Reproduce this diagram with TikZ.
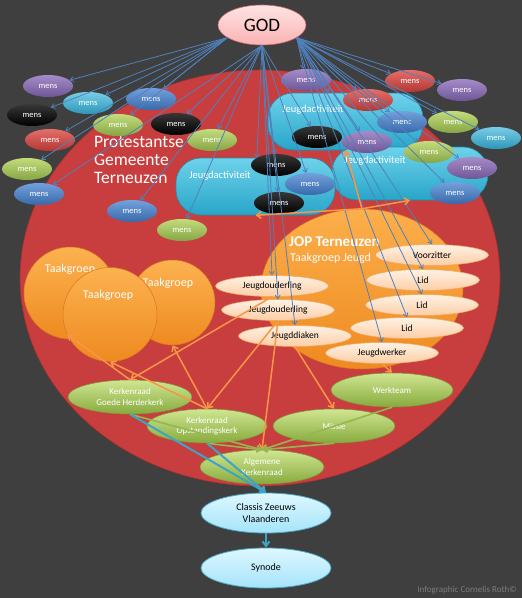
\documentclass[tikz,border=0pt]{standalone}
\usepackage{fontspec}
\setmainfont{Carlito}
\usetikzlibrary{shapes.geometric,arrows.meta}
\definecolor{bg}{RGB}{63,63,63}
\definecolor{pgred}{RGB}{200,62,62}
\definecolor{pgredd}{RGB}{170,45,45}
\definecolor{arblue}{RGB}{79,129,189}
\definecolor{arorange}{RGB}{247,150,70}
\definecolor{argreen}{RGB}{150,182,80}
\definecolor{arteal}{RGB}{60,165,195}
\definecolor{creditgray}{RGB}{125,125,125}
\tikzset{
  mens/.style={ellipse, minimum width=50pt, minimum height=22pt, inner sep=0pt, text=white, font=\fontsize{8.5}{9}\selectfont},
  mpurple/.style={mens, top color={rgb,255:red,165;green,140;blue,200}, bottom color={rgb,255:red,110;green,85;blue,150}},
  mcyan/.style={mens, top color={rgb,255:red,120;green,205;blue,230}, bottom color={rgb,255:red,45;green,150;blue,185}},
  mblue/.style={mens, top color={rgb,255:red,115;green,160;blue,220}, bottom color={rgb,255:red,55;green,105;blue,170}},
  mblack/.style={mens, top color={rgb,255:red,55;green,55;blue,55}, bottom color=black},
  mred/.style={mens, top color={rgb,255:red,228;green,110;blue,105}, bottom color={rgb,255:red,178;green,55;blue,52}},
  mgreen/.style={mens, top color={rgb,255:red,195;green,220;blue,125}, bottom color={rgb,255:red,135;green,165;blue,68}},
  jabox/.style={rectangle, rounded corners=25pt, inner sep=0pt, top color={rgb,255:red,110;green,210;blue,235}, bottom color={rgb,255:red,40;green,165;blue,200}, draw={rgb,255:red,30;green,140;blue,170}, line width=0.6pt},
  jatext/.style={text=white, font=\fontsize{10.5}{12}\selectfont, inner sep=0pt},
  tgcircle/.style={circle, inner sep=0pt, top color={rgb,255:red,252;green,178;blue,80}, bottom color={rgb,255:red,238;green,138;blue,32}, draw={rgb,255:red,215;green,120;blue,30}, line width=0.5pt},
  tgtext/.style={text=white, font=\fontsize{12}{14}\selectfont, inner sep=0pt},
  peach/.style={ellipse, minimum width=113pt, minimum height=21pt, inner sep=0pt, top color={rgb,255:red,255;green,242;blue,228}, bottom color={rgb,255:red,252;green,205;blue,165}, draw={rgb,255:red,245;green,165;blue,95}, line width=0.5pt, text=black, font=\fontsize{9.5}{11}\selectfont},
  greenel/.style={ellipse, minimum width=122pt, minimum height=34pt, inner sep=0pt, align=center, top color={rgb,255:red,208;green,230;blue,145}, bottom color={rgb,255:red,135;green,170;blue,62}, draw={rgb,255:red,125;green,155;blue,55}, line width=0.5pt, text=white, font=\fontsize{9}{10.5}\selectfont},
  lblue/.style={ellipse, minimum width=130pt, minimum height=40pt, inner sep=0pt, align=center, top color={rgb,255:red,222;green,247;blue,255}, bottom color={rgb,255:red,165;green,228;blue,250}, draw={rgb,255:red,75;green,172;blue,198}, line width=0.8pt, text=black, font=\fontsize{10}{11.5}\selectfont},
  barrow/.style={draw=arblue, line width=0.8pt, -{Straight Barb[length=3.5pt,width=5pt]}},
  oarrow/.style={draw=arorange, line width=1.5pt, -{Straight Barb[length=4.5pt,width=7pt]}},
  garrow/.style={draw=argreen, line width=1.6pt, -{Straight Barb[length=4pt,width=6pt]}},
  tarrow/.style={draw=arteal, line width=2pt, -{Straight Barb[length=4.5pt,width=7pt]}}
}
\begin{document}
\begin{tikzpicture}[x=1pt,y=-1pt]
\fill[bg] (0,0) rectangle (522,598);
\useasboundingbox (0,0) rectangle (522,598);

% big church ellipse
\node[ellipse, minimum width=480pt, minimum height=416pt, inner sep=0pt, fill=pgred, draw=pgredd, line width=0.6pt] (pgt) at (260,278) {};

% GOD
\node[ellipse, minimum width=88pt, minimum height=40pt, inner sep=0pt, top color={rgb,255:red,255;green,228;blue,228}, bottom color={rgb,255:red,250;green,178;blue,178}, draw={rgb,255:red,205;green,110;blue,110}, line width=0.6pt, font=\fontsize{19}{22}\selectfont] (god) at (262,25) {GOD};

% mens behind Jeugdactiviteit
\node[mpurple] (m13) at (306,80) {mens};

% left mens
\node[mpurple] (m1) at (48,86) {mens};
\node[mcyan] (m2) at (88,103) {mens};
\node[mblue] (m3) at (151,99) {mens};
\node[mblack] (m4) at (32,115) {mens};
\node[mgreen] (m5) at (118,125) {mens};
\node[mblack] (m6) at (176,124) {mens};
\node[mred] (m7) at (50,140) {mens};
\node[mgreen] (m8) at (212,140) {mens};
\node[mgreen] (m9) at (27,169) {mens};
\node[mblue] (m10) at (39,194) {mens};
\node[mblue] (m11) at (132,211) {mens};
\node[mgreen] (m12) at (182,230) {mens};
\node[mred] (m14) at (410,81) {mens};
\node[mpurple] (m15) at (462,90) {mens};
\node[mgreen] (m17) at (453,122) {mens};
\node[mcyan] (m19) at (496,138) {mens};

% text
\node[anchor=north west, align=left, inner sep=0pt, text=white, font=\fontsize{17.5}{18}\selectfont] (pgtlabel) at (94,136) {Protestantse\\Gemeente\\Terneuzen};

% JOP circle
\node[ellipse, minimum width=202pt, minimum height=160pt, inner sep=0pt, top color={rgb,255:red,252;green,175;blue,75}, bottom color={rgb,255:red,238;green,138;blue,32}, draw={rgb,255:red,215;green,120;blue,30}, line width=0.5pt] (jop) at (362,289) {};

% Taakgroep circles
\node[tgcircle, minimum size=92pt] (t1) at (70,293) {};
\node[tgtext] (t1l) at (70,269) {Taakgroep};
\node[tgcircle, minimum size=85pt] (t3) at (172.5,302.5) {};
\node[tgtext] (t3l) at (168,283) {Taakgroep};
\node[tgcircle, minimum size=94pt] (t2) at (110,314.5) {};
\node[tgtext] (t2l) at (108,295) {Taakgroep};

% Jeugdactiviteit boxes
\node[jabox, minimum width=155pt, minimum height=57pt] (ja2) at (345.5,121.5) {};
\node[jatext] (ja2l) at (313,110) {Jeugdactiviteit};
\node[mred] (m16) at (368,100) {mens};
\node[jabox, minimum width=156pt, minimum height=53pt] (ja3) at (410,173.5) {};
\node[jatext] (ja3l) at (375,161) {Jeugdactiviteit};
\node[jabox, minimum width=159pt, minimum height=57pt] (ja1) at (255.5,186.5) {};
\node[jatext] (ja1l) at (220,176) {Jeugdactiviteit};

% mens on top of activities
\node[mblue] (m18) at (402,122) {mens};
\node[mblack] (m20) at (317,137) {mens};
\node[mpurple] (m21) at (367,142) {mens};
\node[mgreen] (m22) at (429,152) {mens};
\node[mpurple] (m23) at (472,168) {mens};
\node[mblue] (m24) at (455,193) {mens};
\node[mblack] (m25) at (276,165) {mens};
\node[mblue] (m26) at (310,184) {mens};
\node[mblack] (m27) at (279,203) {mens};

% peach ellipses
\node[peach] (vz) at (432,255) {Voorzitter};
\node[peach] (lid1) at (423,280) {Lid};
\node[peach] (lid2) at (422,305) {Lid};
\node[peach] (lid3) at (407,328) {Lid};
\node[peach] (jw) at (382,353) {Jeugdwerker};
\node[peach] (jo1) at (272,286) {Jeugdouderling};
\node[peach] (jo2) at (278,310) {Jeugdouderling};
\node[peach] (jt) at (295,336) {Jeugddiaken};

% JOP labels
\node[anchor=west, inner sep=0pt, text=white, font=\bfseries\fontsize{15}{17}\selectfont] (joplab1) at (289,242) {JOP Terneuzen};
\node[anchor=west, inner sep=0pt, text=white, font=\fontsize{12}{14}\selectfont] (joplab2) at (290,258) {Taakgroep Jeugd};

% green ellipses
\node[greenel] (wt) at (392,390) {Werkteam};
\node[greenel, minimum width=124pt] (gh) at (130,397) {Kerkenraad\\Goede Herderkerk};
\node[greenel] (mis) at (334,426) {Missie};
\node[greenel, minimum width=120pt] (opst) at (207,426) {Kerkenraad\\Opstandingskerk};
\node[greenel, minimum width=124pt] (alg) at (262,467) {Algemene\\Kerkenraad};

% light blue
\node[lblue] (classis) at (266,513) {Classis Zeeuws\\Vlaanderen};
\node[lblue] (synode) at (266,568) {Synode};

% credit
\node[anchor=east, inner sep=0pt, text=creditgray, font=\fontsize{9}{10}\selectfont] (credit) at (517,590) {Infographic Cornelis Roth©};

% blue arrows from GOD
\foreach \t in {m1,m2,m3,m4,m5,m7,m9}
  \draw[barrow] (god.200) -- (\t);
\foreach \t in {m6,m8,m10,m11,m12,m20,m25,m26,m27,ja1}
  \draw[barrow] (god.south) -- (\t);
\foreach \t in {m13,m14,m15,m16,m17,m18,m19,m21,m22,m23,m24,ja2,ja3}
  \draw[barrow] (god.340) -- (\t);
\foreach \t in {jo1,jo2,jt}
  \draw[barrow] (god.south) -- (\t.north);
\foreach \t in {vz,lid1,lid2,lid3,jw}
  \draw[barrow] (god.340) -- (\t.north);

% orange arrows
\draw[oarrow] (jop.north) -- (ja1.south);
\draw[oarrow] (jop.north) -- (ja2.south);
\draw[oarrow] (jop.north) -- (ja3.south);
\draw[oarrow] (jo1.south) -- (gh.north);
\draw[oarrow] (jo2.south) -- (opst.north);
\draw[oarrow] (jo2.south) -- (alg.north);
\draw[oarrow] (jt.south) -- (mis.north);
\draw[oarrow] (jw.south) -- (wt.north);
\draw[oarrow] (gh.north) -- (t2.205);
\draw[oarrow] (opst.north) -- (t2.south);
\draw[oarrow] (opst.north) -- (t3.south);

% green lines
\draw[garrow] (gh.south) -- (alg.north);
\draw[garrow] (opst.south) -- (alg.north);
\draw[garrow] (mis.south) -- (alg.north);
\draw[garrow] (wt.south) -- (alg.north);

% teal arrows
\draw[tarrow] (gh.south) -- (classis.north);
\draw[tarrow] (opst.south) -- (classis.north);
\draw[tarrow] (classis.south) -- (synode.north);
\end{tikzpicture}
\end{document}
